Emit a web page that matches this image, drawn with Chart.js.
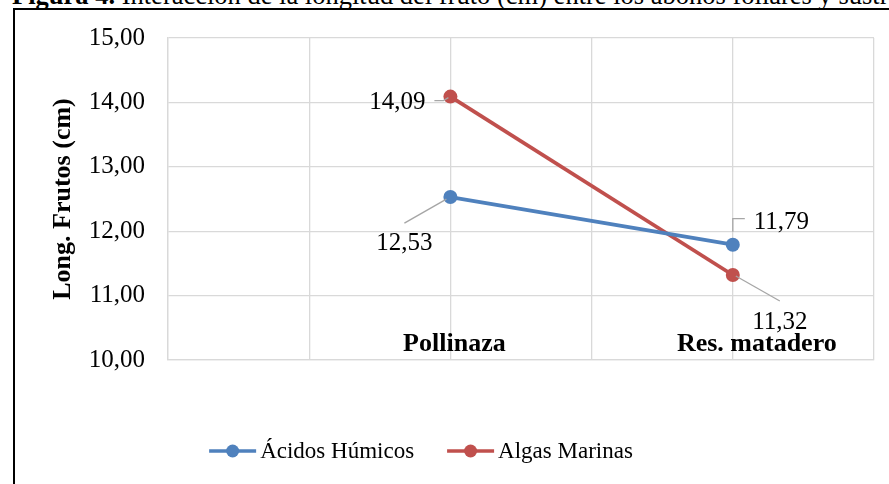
<!DOCTYPE html>
<html lang="es">
  <head>
    <meta charset="UTF-8" />
    <title>Figura 4</title>
    <script src="https://cdn.jsdelivr.net/npm/chart.js"></script>
    <style>
      body { margin: 0; background: #fff; overflow: hidden; }
      #wrap { position: relative; width: 889px; height: 484px; overflow: hidden; }
      #caption {
        position: absolute; left: 12px; top: -18px; white-space: nowrap;
        font: 26.5px/26.5px "Liberation Serif", "Times New Roman", serif; color: #000;
      }
      #frame {
        position: absolute; left: 13px; top: 8px; width: 900px; height: 500px;
        border-left: 2px solid #000; border-top: 2px solid #000;
      }
      #chart { position: absolute; left: 0; top: 0; }
    </style>
  </head>
  <body>
    <div id="wrap">
      <div id="caption"><b>Figura 4.</b> Interacción de la longitud del fruto (cm) entre los abonos foliares y sustratos orgánicos</div>
      <div id="frame"></div>
      <canvas id="chart" width="889" height="484"></canvas>
    </div>

    <script>
      // categorias (huecos vacios para que queden sobre las lineas de division)
      const xLabels = ['', '', 'Pollinaza', '', 'Res. matadero', ''];
      const acidosHumicos = [null, null, 12.53, null, 11.79, null];
      const algasMarinas = [null, null, 14.09, null, 11.32, null];
      const yTicks = [10, 11, 12, 13, 14, 15];

      const serif = '"Liberation Serif", "Times New Roman", serif';
      const fmt = (v) => v.toFixed(2).replace('.', ',');

      // posicion de cada etiqueta respecto al punto: texto y linea guia
      const labelPlace = [
        {
          2: { dx: -46, dy: 46, align: 'center', lead: [[-46, 26], [-4, 2]] },
          4: { dx: 21, dy: -22, align: 'left', lead: [[0, -13], [0, -26], [12, -26]] },
        },
        {
          2: { dx: -25, dy: 6, align: 'right', lead: [[-16, 4], [-7, 4], [-2, 1]] },
          4: { dx: 47, dy: 47, align: 'center', lead: [[3, 1], [47, 26]] },
        },
      ];
      const catShift = { 2: 4, 4: 24 };

      const extras = {
        id: 'extras',
        afterDatasetsDraw(chart) {
          const ctx = chart.ctx;
          const x = chart.scales.x;
          const area = chart.chartArea;

          // etiquetas de categoria dentro del area
          ctx.save();
          ctx.fillStyle = '#000';
          ctx.font = 'bold 26px ' + serif;
          ctx.textAlign = 'center';
          ctx.textBaseline = 'alphabetic';
          xLabels.forEach((lab, i) => {
            if (!lab) return;
            ctx.fillText(lab, x.getPixelForValue(i) + (catShift[i] || 0), area.bottom - 9);
          });

          // etiquetas de datos con lineas guia
          ctx.font = '25px ' + serif;
          ctx.textBaseline = 'middle';
          chart.data.datasets.forEach((ds, di) => {
            const meta = chart.getDatasetMeta(di);
            ds.data.forEach((v, i) => {
              if (v === null) return;
              const p = meta.data[i];
              const pl = labelPlace[di][i];
              ctx.strokeStyle = '#a6a6a6';
              ctx.lineWidth = 1.3;
              ctx.beginPath();
              pl.lead.forEach(([lx, ly], k) => {
                if (k === 0) ctx.moveTo(p.x + lx, p.y + ly);
                else ctx.lineTo(p.x + lx, p.y + ly);
              });
              ctx.stroke();
              ctx.textAlign = pl.align;
              ctx.fillText(fmt(v), p.x + pl.dx, p.y + pl.dy);
            });
          });

          // leyenda
          ctx.font = '23px ' + serif;
          ctx.textAlign = 'left';
          const items = chart.data.datasets.map((ds) => ({
            ds,
            w: 47 + 4 + ctx.measureText(ds.label).width,
          }));
          const gap = 33;
          const total = items.reduce((s, it) => s + it.w, 0) + gap * (items.length - 1);
          let cx = 421 - total / 2;
          const cy = 451;
          items.forEach((it) => {
            ctx.strokeStyle = it.ds.borderColor;
            ctx.lineWidth = 3.5;
            ctx.beginPath();
            ctx.moveTo(cx, cy);
            ctx.lineTo(cx + 47, cy);
            ctx.stroke();
            ctx.fillStyle = it.ds.borderColor;
            ctx.beginPath();
            ctx.arc(cx + 23.5, cy, 6.5, 0, Math.PI * 2);
            ctx.fill();
            ctx.fillStyle = '#000';
            ctx.fillText(it.ds.label, cx + 51, cy + 1);
            cx += it.w + gap;
          });
          ctx.restore();
        },
      };

      new Chart(document.getElementById('chart'), {
        type: 'line',
        data: {
          labels: xLabels,
          datasets: [
            {
              label: 'Ácidos Húmicos',
              data: acidosHumicos,
              borderColor: '#4f81bd',
              backgroundColor: '#4f81bd',
              pointBackgroundColor: '#4f81bd',
              borderWidth: 3.8,
              pointRadius: 7,
              pointBorderWidth: 0,
              spanGaps: true,
              tension: 0,
            },
            {
              label: 'Algas Marinas',
              data: algasMarinas,
              borderColor: '#c0504d',
              backgroundColor: '#c0504d',
              pointBackgroundColor: '#c0504d',
              borderWidth: 3.8,
              pointRadius: 7,
              pointBorderWidth: 0,
              spanGaps: true,
              tension: 0,
            },
          ],
        },
        options: {
          responsive: false,
          animation: false,
          layout: { padding: { top: 38, right: 15, left: 0, bottom: 0 } },
          plugins: {
            legend: { display: false },
            tooltip: { enabled: false },
          },
          scales: {
            x: {
              offset: false,
              grid: { color: '#d9d9d9', lineWidth: 1.3, drawTicks: false, offset: false },
              border: { color: '#d9d9d9', width: 1.3 },
              ticks: { display: false },
              afterFit: (s) => { s.height = 124; },
            },
            y: {
              min: 10,
              max: 15,
              afterBuildTicks: (s) => { s.ticks = yTicks.map((v) => ({ value: v })); },
              grid: { color: '#d9d9d9', lineWidth: 1.3, drawTicks: false },
              border: { color: '#d9d9d9', width: 1.3 },
              ticks: {
                padding: 23,
                color: '#000',
                font: { family: serif, size: 25 },
                callback: (v) => fmt(v),
              },
              title: {
                display: true,
                text: 'Long. Frutos (cm)',
                color: '#000',
                font: { family: serif, size: 26, weight: 'bold' },
                padding: { top: 48, bottom: 0 },
              },
              afterFit: (s) => { s.width = 168; },
            },
          },
        },
        plugins: [extras],
      });
    </script>
  </body>
</html>
